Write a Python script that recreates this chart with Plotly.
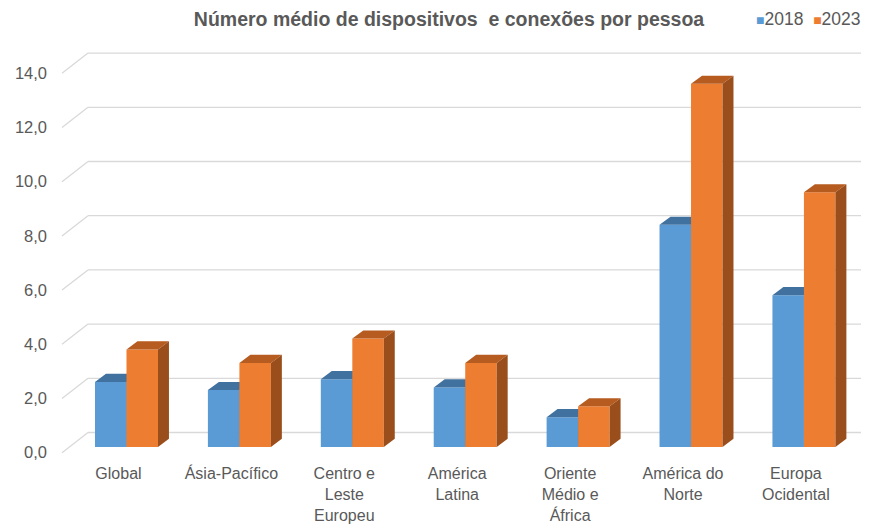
import numpy as np
import plotly.graph_objects as go

# dados
regioes = ["Global", "Ásia-Pacífico", "Centro e<br>Leste<br>Europeu", "América<br>Latina",
           "Oriente<br>Médio e<br>África", "América do<br>Norte", "Europa<br>Ocidental"]
anos = ["2018", "2023"]
valores_2018 = [2.4, 2.1, 2.5, 2.2, 1.1, 8.2, 5.6]
valores_2023 = [3.6, 3.1, 4.0, 3.1, 1.5, 13.4, 9.4]
ticks_y = [0, 2, 4, 6, 8, 10, 12, 14]

# cores: frente, topo, lateral
cores = {
    "2018": ("#5B9BD5", "#41729F", "#3A6690"),
    "2023": ("#ED7D31", "#B75C21", "#9A4E1C"),
}

largura = 0.279      # largura de cada coluna (unidades de categoria)
prof_x = 0.097       # profundidade 3D em x
prof_y = 0.30        # profundidade 3D em y
recuo_grade = 0.535  # parede do fundo
recuo_frente = -0.21 # borda frontal do eixo

x_rng = [-0.341, 6.532]
y_rng = [-0.406, 14.834]

pos = np.arange(len(regioes))
fig = go.Figure()


def faces(vals, offset):
    topo_x, topo_y, lado_x, lado_y = [], [], [], []
    for p, v in zip(pos, vals):
        xl = p + offset
        xr = xl + largura
        topo_x += [xl, xr, xr + prof_x, xl + prof_x, xl, None]
        topo_y += [v, v, v + prof_y, v + prof_y, v, None]
        lado_x += [xr, xr, xr + prof_x, xr + prof_x, xr, None]
        lado_y += [0, v, v + prof_y, prof_y, 0, None]
    return topo_x, topo_y, lado_x, lado_y


series = [(anos[0], valores_2018, -largura, "x", "y"),
          (anos[1], valores_2023, 0.0, "x2", "y2")]

for ano, vals, off, xa, ya in series:
    frente, topo, lado = cores[ano]
    fig.add_trace(go.Bar(x=pos, y=vals, width=largura, offset=off, name=ano,
                         marker=dict(color=frente, line=dict(width=0)),
                         xaxis=xa, yaxis=ya, hoverinfo="y+name", showlegend=False))
    tx, ty, lx, ly = faces(vals, off)
    fig.add_trace(go.Scatter(x=tx, y=ty, fill="toself", fillcolor=topo, mode="lines",
                             line=dict(width=0), showlegend=False, hoverinfo="skip",
                             xaxis=xa, yaxis=ya))
    fig.add_trace(go.Scatter(x=lx, y=ly, fill="toself", fillcolor=lado, mode="lines",
                             line=dict(width=0), showlegend=False, hoverinfo="skip",
                             xaxis=xa, yaxis=ya))

# eixo de rótulos (traço invisível)
fig.add_trace(go.Scatter(x=[0], y=[0], mode="markers", marker=dict(opacity=0),
                         showlegend=False, hoverinfo="skip", xaxis="x3", yaxis="y3"))

# grade na parede do fundo + linhas diagonais da parede lateral
for t in ticks_y:
    fig.add_shape(type="line", xref="paper", yref="y", x0=0, x1=1,
                  y0=t + recuo_grade, y1=t + recuo_grade,
                  line=dict(color="#D9D9D9", width=1.3), layer="below")
    fig.add_shape(type="line", xref="paper", yref="y", x0=-0.0335, x1=0,
                  y0=t + recuo_frente, y1=t + recuo_grade,
                  line=dict(color="#D9D9D9", width=1.3), layer="below")

# legenda
legenda = "&nbsp;&nbsp;".join(
    f"<span style='color:{cores[a][0]};font-size:14px'>■</span>{a}" for a in anos
)
fig.add_annotation(text=legenda, xref="paper", yref="paper",
                   x=0.999, xanchor="right", y=1.063, yanchor="middle",
                   showarrow=False, font=dict(size=17.5, color="#595959"))

eixo_oculto = dict(showgrid=False, zeroline=False, showticklabels=False, showline=False)

fig.update_layout(
    width=861, height=516,
    margin=dict(l=80, r=5, t=37, b=66),
    paper_bgcolor="white", plot_bgcolor="white",
    separators=",.",
    font=dict(family="Liberation Sans, Arial, sans-serif", color="#595959"),
    barmode="overlay",
    showlegend=False,
    title=dict(text="Número médio de dispositivos  e conexões por pessoa",
               x=441 / 861, xref="container", xanchor="center",
               y=1 - 11 / 516, yref="container", yanchor="middle",
               font=dict(size=19.5, color="#595959", family="Liberation Sans, Arial, sans-serif",
                         weight="bold")),
    xaxis=dict(range=x_rng, **eixo_oculto),
    yaxis=dict(range=y_rng, **eixo_oculto),
    xaxis2=dict(range=x_rng, overlaying="x", anchor="y2", **eixo_oculto),
    yaxis2=dict(range=y_rng, overlaying="y", anchor="x2", **eixo_oculto),
    xaxis3=dict(range=[-0.270, 6.603], overlaying="x", anchor="y3",
                tickmode="array", tickvals=list(pos), ticktext=regioes,
                showgrid=False, zeroline=False, showline=False, ticks="",
                ticklabelstandoff=4, automargin=False,
                tickfont=dict(size=16, color="#595959")),
    yaxis3=dict(range=[-0.196, 15.044], overlaying="y", anchor="x3", side="left",
                tickmode="array", tickvals=ticks_y, tickformat=".1f",
                showgrid=False, zeroline=False, showline=False, ticks="",
                ticklabelstandoff=40, automargin=False,
                tickfont=dict(size=16.5, color="#595959")),
)

fig.write_html("out.html")
